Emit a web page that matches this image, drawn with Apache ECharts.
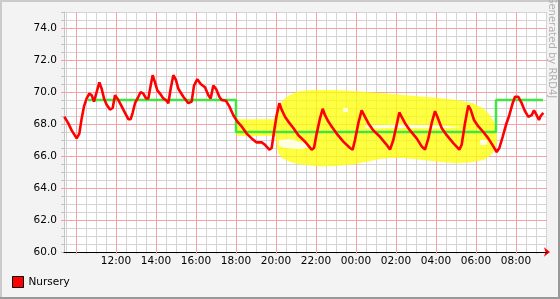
<!DOCTYPE html>
<html><head><meta charset="utf-8">
<script src="https://cdn.jsdelivr.net/npm/echarts@6/dist/echarts.min.js"></script>
<style>html,body{margin:0;padding:0;background:#f3f3f3}#c{width:560px;height:299px}</style>
</head><body><div id="c"></div>
<script>
// time in minutes from 00:00 of day 1 (09:24 -> ~09:33 next day)
const START = 564, END = 2013;

const tempTime = [565,577,587,602,610,617,624,632,640,647,654,662,670,677,684,692,702,710,717,727,
  737,747,757,764,770,777,787,794,802,810,817,824,830,837,844,852,862,872,877,884,
  892,900,907,912,922,937,947,954,964,974,987,997,1004,1012,1020,1030,1037,1050,1060,1072,
  1084,1097,1112,1127,1142,1157,1167,1180,1187,1194,1202,1210,1217,1227,1237,1252,1267,1287,1307,1314,
  1322,1332,1340,1347,1357,1367,1382,1402,1422,1430,1437,1447,1457,1467,1477,1492,1512,1532,1542,1552,
  1562,1570,1577,1587,1602,1622,1637,1647,1657,1667,1677,1684,1697,1712,1732,1750,1757,1767,1777,1784,
  1794,1807,1822,1837,1852,1862,1870,1880,1890,1900,1910,1917,1927,1937,1947,1957,1967,1974,1982,1989,
  1994,2002];
const tempValue = [68.45,68.04,67.6,67.1,67.4,68.35,69.1,69.6,69.9,69.8,69.4,70.0,70.6,70.2,69.6,69.2,68.9,69.0,69.8,69.5,
  69.1,68.7,68.3,68.3,68.7,69.3,69.7,70.0,69.9,69.6,69.6,70.4,71.05,70.6,70.1,69.9,69.6,69.45,69.3,70.2,
  71.05,70.75,70.2,70.1,69.7,69.3,69.4,70.4,70.8,70.5,70.3,69.8,69.6,70.4,70.2,69.7,69.5,69.45,69.1,68.55,
  68.15,67.85,67.4,67.1,66.85,66.85,66.7,66.4,66.5,67.5,68.55,69.3,68.9,68.45,68.15,67.75,67.3,66.9,66.4,66.5,
  67.4,68.35,68.95,68.55,68.15,67.85,67.4,66.9,66.5,66.4,67.0,68.05,68.85,68.45,68.05,67.6,67.2,66.7,66.4,67.0,
  67.95,68.72,68.45,68.05,67.6,67.1,66.6,66.4,67.1,68.05,68.8,68.45,67.75,67.3,66.8,66.4,66.7,68.05,69.15,68.9,
  68.25,67.85,67.5,67.1,66.6,66.25,66.5,67.2,67.95,68.55,69.3,69.7,69.7,69.3,68.8,68.45,68.55,68.85,68.55,68.25,
  68.5,68.7];

const setpointTime = [636, 1080, 1860, 2001];
const setpointValue = [69.5, 67.5, 69.5, 69.5];

// hand-drawn yellow highlight (outline) and its unpainted gaps
const blobTime = [1082,1194,1200,1209,1224,1242,1262,1302,1382,1482,1582,1682,1742,1792,1822,1842,1854,1862,1863,1857,
  1842,1822,1782,1742,1692,1642,1582,1542,1512,1470,1432,1377,1332,1272,1242,1218,1207,1202,1200,1082];
const blobValue = [68.29,68.29,68.63,69.13,69.56,69.81,70.02,70.13,70.13,69.98,69.81,69.64,69.5,69.29,68.98,68.56,68.13,67.56,66.88,66.38,
  66.0,65.75,65.59,65.54,65.63,65.75,65.88,65.88,65.81,65.63,65.47,65.38,65.34,65.47,65.63,65.88,66.19,66.69,67.25,67.25];
const gap1 = [[1209,67.0],[1242,67.06],[1287,66.81],[1308,66.56],[1272,66.44],[1227,66.5],[1209,66.63]];
const gap2 = [[1467,67.91],[1572,67.97],[1692,67.91],[1758,67.81],[1692,67.72],[1572,67.75],[1467,67.72]];
const gap3 = [[1401,69.0],[1416,69.0],[1416,68.75],[1401,68.75]];
const gap4 = [[1812,67.0],[1833,67.0],[1833,66.69],[1812,66.69]];

const yLabels = [60,62,64,66,68,70,72,74];
const xLabels = [720,840,960,1080,1200,1320,1440,1560,1680,1800,1920];

const xMinor = []; for (let t = 570; t <= END; t += 30) xMinor.push(t);
const xMajor = []; for (let t = 600; t <= END; t += 120) xMajor.push(t);
const yMinor = []; for (let v = 60; v <= 75; v += 0.5) yMinor.push(v);
const yMajor = yLabels.filter(v => v > 60);

const FONT = 'DejaVu Sans';
const pad = n => (n < 10 ? '0' : '') + n;

function polyRender(list, fill, opacity) {
  return function (params, api) {
    if (params.dataIndex !== 0) return null;
    return { type: 'group', children: list.map(pl => ({
      type: 'polygon', shape: { points: pl.map(p => api.coord(p)) }, style: { fill: fill, opacity: opacity }
    })) };
  };
}

const blobPts = blobTime.map((t, i) => [t, blobValue[i]]);
const chart = echarts.init(document.getElementById('c'), null, { renderer: 'canvas' });
chart.setOption({
  animation: false,
  backgroundColor: '#f3f3f3',
  grid: { left: 64, right: 13, top: 12, bottom: 47, show: true, backgroundColor: '#ffffff', borderWidth: 0, z: 0 },
  legend: {
    left: 12, top: 276, padding: 0, itemWidth: 11, itemHeight: 11, icon: 'rect', selectedMode: false,
    data: ['Nursery'], textStyle: { fontFamily: FONT, fontSize: 10.5, color: '#000' },
    itemStyle: { borderColor: '#000', borderWidth: 1 }
  },
  xAxis: [
    { type: 'value', min: START, max: END, position: 'bottom', z: 3,
      axisLine: { show: true, onZero: false, symbol: ['none', 'arrow'], symbolSize: [7, 6], symbolOffset: [0, 3],
        lineStyle: { color: '#ff0000', width: 1 } },
      axisTick: { show: true, customValues: xMinor, length: 2, lineStyle: { color: '#c8c8c8' } },
      axisLabel: { show: false },
      splitLine: { show: true, lineStyle: { color: '#d4d4d4', width: 1 } } },
    { type: 'value', min: START, max: END, position: 'bottom', z: 4,
      axisLine: { show: true, onZero: false, lineStyle: { color: '#000', width: 1 } },
      axisTick: { show: true, customValues: xMajor, length: 2, lineStyle: { color: '#f3a0a0' } },
      axisLabel: { customValues: xLabels, margin: 4, fontFamily: FONT, fontSize: 10.5, color: '#000',
        formatter: v => pad(Math.floor(v / 60) % 24) + ':' + pad(v % 60) },
      splitLine: { show: true, lineStyle: { color: '#f5a3a3', width: 1 } } }
  ],
  yAxis: [
    { type: 'value', min: 60, max: 75, position: 'left', z: 3,
      axisLine: { show: true, onZero: false, lineStyle: { color: '#c4c4c4' } },
      axisTick: { show: true, customValues: yMinor, length: 3, lineStyle: { color: '#c4c4c4' } },
      axisLabel: { show: false },
      splitLine: { show: true, lineStyle: { color: '#d4d4d4', width: 1 } } },
    { type: 'value', min: 60, max: 75, position: 'left', z: 4,
      axisLine: { show: false },
      axisTick: { show: true, customValues: yMajor, length: 3, lineStyle: { color: '#f3a0a0' } },
      axisLabel: { customValues: yLabels, margin: 7, fontFamily: FONT, fontSize: 10.5, color: '#000',
        formatter: v => v.toFixed(1) },
      splitLine: { show: true, lineStyle: { color: '#f5a3a3', width: 1 } } }
  ],
  series: [
    { type: 'custom', name: 'highlight', xAxisIndex: 1, yAxisIndex: 1, z: 4.5, silent: true,
      data: blobPts, renderItem: polyRender([blobPts], '#ffff00', 0.74) },
    { type: 'custom', name: 'gaps', xAxisIndex: 1, yAxisIndex: 1, z: 4.6, silent: true,
      data: blobPts.slice(0, 1), renderItem: polyRender([gap1, gap2, gap3, gap4], '#ffffff', 0.85) },
    { type: 'line', name: 'Setpoint', xAxisIndex: 1, yAxisIndex: 1, z: 5, step: 'end', showSymbol: false,
      data: setpointTime.map((t, i) => [t, setpointValue[i]]),
      lineStyle: { color: '#3ee63e', width: 2.5 }, itemStyle: { color: '#3ee63e' } },
    { type: 'line', name: 'Nursery', xAxisIndex: 1, yAxisIndex: 1, z: 6, showSymbol: false,
      data: tempTime.map((t, i) => [t, tempValue[i]]),
      lineStyle: { color: '#ff0000', width: 2.6 }, itemStyle: { color: '#ff0000' } }
  ],
  graphic: [
    { type: 'rect', silent: true, z: 100, shape: { x: 0, y: 0, width: 560, height: 2 }, style: { fill: '#cbcbcb' } },
    { type: 'rect', silent: true, z: 100, shape: { x: 0, y: 0, width: 2, height: 299 }, style: { fill: '#cbcbcb' } },
    { type: 'rect', silent: true, z: 100, shape: { x: 0, y: 297, width: 560, height: 2 }, style: { fill: '#999999' } },
    { type: 'rect', silent: true, z: 100, shape: { x: 558, y: 0, width: 2, height: 299 }, style: { fill: '#999999' } },
    { type: 'text', silent: true, z: 100, x: 552, y: 47, rotation: -Math.PI / 2,
      style: { text: 'Generated by RRD4J', fill: '#b0b0b0', font: '10px "DejaVu Sans"', align: 'center', verticalAlign: 'middle' } }
  ]
});
</script>
</body></html>
